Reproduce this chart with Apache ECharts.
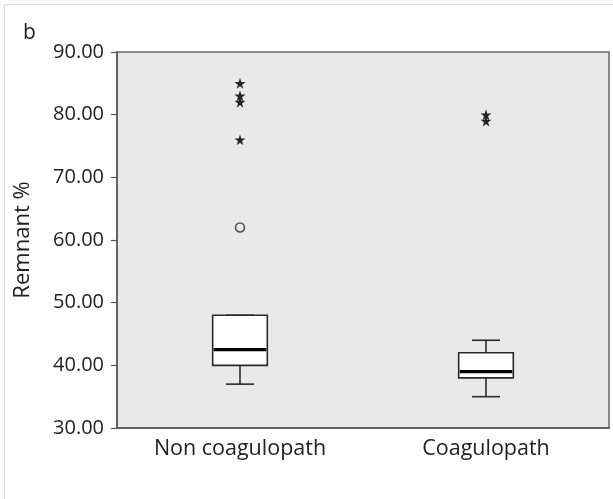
<!DOCTYPE html>
<html>
<head>
<meta charset="utf-8">
<script src="https://cdn.jsdelivr.net/npm/echarts@6/dist/echarts.min.js"></script>
<style>
html,body{margin:0;padding:0;background:#fff;}
#c{width:613px;height:499px;}
</style>
</head>
<body>
<div id="c"></div>
<script>
// ---- data ----
var categories = ['Non coagulopath', 'Coagulopath'];
// [min, Q1, median, Q3, max]
var boxStats = [
  [37, 40, 42.5, 48, 48],
  [35, 38, 39, 42, 44]
];
// extreme values (stars): [categoryIndex, value]
var extremes = [[0, 85], [0, 83], [0, 82], [0, 76], [1, 80], [1, 79]];
// outliers (circles)
var outliers = [[0, 62]];
var yTicks = [30, 40, 50, 60, 70, 80, 90];

var boxData = boxStats.map(function (s, i) { return [i].concat(s); });

var FONT = '"Open Sans", "DejaVu Sans", sans-serif';
var starPath = 'path://M50,0 L61,35 L98,35 L68,57 L79,91 L50,70 L21,91 L32,57 L2,35 L39,35 Z';

function renderBox(params, api) {
  var x = api.value(0);
  var lo = api.coord([x, api.value(1)]);
  var q1 = api.coord([x, api.value(2)]);
  var med = api.coord([x, api.value(3)]);
  var q3 = api.coord([x, api.value(4)]);
  var hi = api.coord([x, api.value(5)]);
  var band = api.size([1, 0])[0];
  var bw = band * 0.222;
  var cw = band * 0.114;
  var cx = q1[0];
  var lineStyle = { stroke: '#2a2a2a', lineWidth: 1.6, fill: null };
  return {
    type: 'group',
    children: [
      { type: 'line', shape: { x1: cx, y1: q3[1], x2: cx, y2: hi[1] }, style: lineStyle },
      { type: 'line', shape: { x1: cx, y1: q1[1], x2: cx, y2: lo[1] }, style: lineStyle },
      { type: 'line', shape: { x1: cx - cw / 2, y1: hi[1], x2: cx + cw / 2, y2: hi[1] }, style: lineStyle },
      { type: 'line', shape: { x1: cx - cw / 2, y1: lo[1], x2: cx + cw / 2, y2: lo[1] }, style: lineStyle },
      { type: 'rect', shape: { x: cx - bw / 2, y: q3[1], width: bw, height: q1[1] - q3[1] },
        style: { fill: '#ffffff', stroke: '#2a2a2a', lineWidth: 1.6 } },
      { type: 'line', shape: { x1: cx - bw / 2 + 1, y1: med[1], x2: cx + bw / 2 - 1, y2: med[1] },
        style: { stroke: '#000000', lineWidth: 3.4 } }
    ]
  };
}

var chart = echarts.init(document.getElementById('c'), null, { renderer: 'canvas' });
chart.setOption({
  animation: false,
  backgroundColor: '#ffffff',
  graphic: [
    { type: 'rect', shape: { x: 4.5, y: 4.5, width: 800, height: 800 },
      style: { fill: null, stroke: '#d9d9d9', lineWidth: 1 }, silent: true, z: -10 },
    { type: 'text', left: 23, top: 23, style: { text: 'b', font: '21px ' + FONT, fill: '#222' } }
  ],
  grid: {
    left: 117, top: 52, right: 4, bottom: 71,
    show: true, backgroundColor: '#e9e9e9', borderColor: '#666', borderWidth: 1.5
  },
  xAxis: {
    type: 'category',
    data: categories,
    axisLine: { lineStyle: { color: '#555', width: 1.5 } },
    axisTick: { alignWithLabel: true, length: 5, lineStyle: { color: '#555', width: 1.2 } },
    axisLabel: { color: '#222', fontSize: 21.5, fontFamily: FONT, margin: 10 },
    splitLine: { show: false }
  },
  yAxis: {
    type: 'value',
    min: yTicks[0], max: yTicks[yTicks.length - 1], interval: 10,
    name: 'Remnant %',
    nameLocation: 'middle',
    nameGap: 83,
    nameTextStyle: { color: '#222', fontSize: 22, fontFamily: FONT },
    axisLine: { show: true, lineStyle: { color: '#555', width: 1.5 } },
    axisTick: { show: true, length: 6, lineStyle: { color: '#555', width: 1.2 } },
    axisLabel: { color: '#222', fontSize: 20, fontFamily: FONT, margin: 13,
      formatter: function (v) { return v.toFixed(2); } },
    splitLine: { show: false }
  },
  series: [
    {
      type: 'custom',
      renderItem: renderBox,
      data: boxData,
      encode: { x: 0, y: [1, 2, 3, 4, 5] },
      z: 2
    },
    {
      type: 'scatter',
      data: extremes,
      symbol: starPath,
      symbolSize: 11,
      itemStyle: { color: '#222', opacity: 1 },
      z: 3
    },
    {
      type: 'scatter',
      data: outliers,
      symbol: 'circle',
      symbolSize: 9,
      itemStyle: { color: 'rgba(0,0,0,0)', borderColor: '#555', borderWidth: 1.6, opacity: 1 },
      z: 3
    }
  ]
});
</script>
</body>
</html>
